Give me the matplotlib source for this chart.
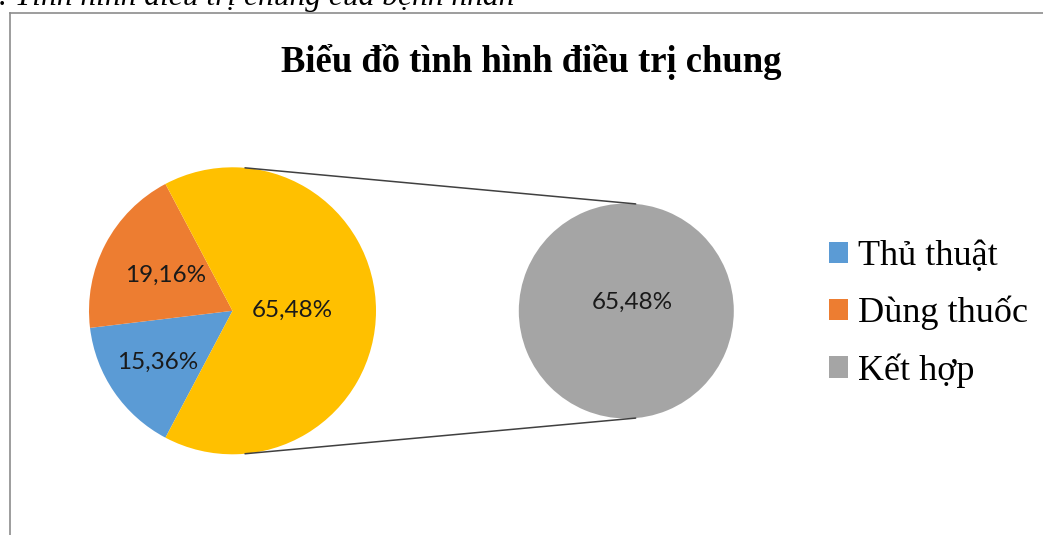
import matplotlib
matplotlib.use("Agg")
import matplotlib.pyplot as plt
import numpy as np
from matplotlib.patches import ConnectionPatch
from matplotlib.lines import Line2D

# ---- data ----
categories = ['Thủ thuật', 'Dùng thuốc', 'Kết hợp']
values = [15.36, 19.16, 65.48]
secondary_values = [65.48]
title = 'Biểu đồ tình hình điều trị chung'
caption = '. Tình hình điều trị chung của bệnh nhân'

colors = ['#5B9BD5', '#ED7D31', '#FFC000']
gray = '#A5A5A5'

W, H = 1043, 535
fig = plt.figure(figsize=(W / 100, H / 100), dpi=100)
fig.patch.set_facecolor('white')

def px_axes(cx, cy, r):
    return fig.add_axes([(cx - r) / W, (H - cy - r) / H, 2 * r / W, 2 * r / H])

def fmt(v):
    return f'{v:.2f}'.replace('.', ',') + '%'

# frame lines (chart area border, only left & top visible)
fig.add_artist(Line2D([10 / W, 10 / W], [0, 1 - 13 / H], transform=fig.transFigure,
                      color='#8c8c8c', lw=1.2))
fig.add_artist(Line2D([10 / W, 1], [1 - 13 / H, 1 - 13 / H], transform=fig.transFigure,
                      color='#8c8c8c', lw=1.2))

# caption cut at top (as in the reference)
fig.text(-1 / W, 1 - 5.5 / H, caption, ha='left', va='baseline', fontsize=22.7,
         family='Liberation Serif', style='italic', color='black')

# title
fig.text(531 / W, 1 - 71.5 / H, title, ha='center', va='baseline', fontsize=26.4,
         family='Liberation Serif', fontweight='bold', color='black')

# main pie
ax1 = px_axes(232.5, 310.8, 143.5)
start = values[2] * 1.8 + (values[0] + values[1]) * 3.6
wedges, _ = ax1.pie(values, colors=colors, startangle=start, counterclock=False,
                    radius=1, wedgeprops=dict(linewidth=0))
ax1.set_xlim(-1, 1); ax1.set_ylim(-1, 1)
ax1.set_aspect('auto')
ax1.axis('off')
label_r = [0.63, 0.53, 0.42]
for w, v, r in zip(wedges, values, label_r):
    mid = np.deg2rad((w.theta1 + w.theta2) / 2)
    ax1.text(r * np.cos(mid), r * np.sin(mid), fmt(v), ha='center', va='center',
             fontsize=17.5, family='Lato', color='#1a1a1a')

# secondary pie
ax2 = px_axes(626.3, 311, 107.5)
w2, _ = ax2.pie(secondary_values, colors=[gray], radius=1, wedgeprops=dict(linewidth=0))
ax2.set_xlim(-1, 1); ax2.set_ylim(-1, 1)
ax2.set_aspect('auto')
ax2.axis('off')
ax2.text(0.06, 0.08, fmt(secondary_values[0]), ha='center', va='center',
         fontsize=17.5, family='Lato', color='#1a1a1a')

# connector lines
ang = np.deg2rad(85)
for s in (1, -1):
    p1 = (np.cos(ang), s * np.sin(ang))
    con = ConnectionPatch(xyA=p1, coordsA=ax1.transData, xyB=p1, coordsB=ax2.transData,
                          color='#404040', lw=1.1)
    fig.add_artist(con)

# legend
handles = [plt.Rectangle((0, 0), 1, 1, facecolor=c, edgecolor='none') for c in colors[:2] + [gray]]
fig.legend(handles, categories, loc='center left',
           bbox_to_anchor=(829 / W, 1 - 314 / H), frameon=False,
           prop=dict(family='Liberation Serif', size=26),
           handlelength=0.53, handleheight=0.53, handletextpad=0.28,
           labelspacing=0.63, borderpad=0, borderaxespad=0)

fig.savefig('out.png', dpi=100, facecolor='white')
